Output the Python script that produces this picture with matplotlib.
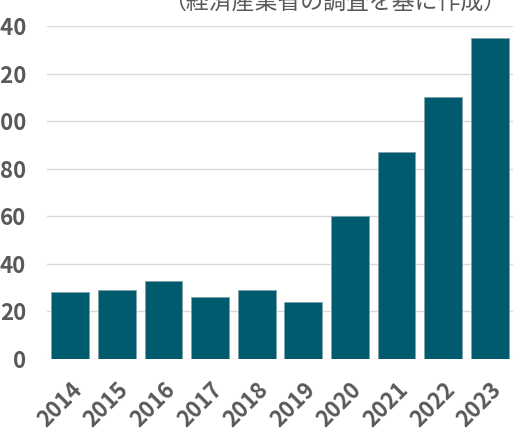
import matplotlib
matplotlib.use("Agg")
import matplotlib.pyplot as plt

# Daten
years = ["2014", "2015", "2016", "2017", "2018", "2019", "2020", "2021", "2022", "2023"]
values = [28, 29, 33, 26, 29, 24, 60, 87, 110, 135]
y_ticks = [0, 20, 40, 60, 80, 100, 120, 140]
note = "（経済産業省の調査を基に作成）"

plt.rcParams["font.family"] = ["Noto Sans CJK JP", "DejaVu Sans"]

fig = plt.figure(figsize=(5.13, 4.48), dpi=100)
ax = fig.add_axes([47 / 513, 89 / 448, 466 / 513, 333 / 448])

x = list(range(len(years)))
ax.bar(x, values, width=0.81, color="#005B6E", edgecolor="#7FA3AD",
       linewidth=0.6, zorder=3)

ax.set_xlim(-0.5, 9.5)
ax.set_ylim(0, 140)
ax.set_yticks(y_ticks)
ax.set_yticklabels([str(v) for v in y_ticks])
ax.set_xticks(x)
ax.set_xticklabels(years, rotation=45, ha="right", rotation_mode="anchor")

ax.yaxis.grid(True, color="#D9D9D9", linewidth=1.0, zorder=0)
ax.set_axisbelow(True)
for s in ax.spines.values():
    s.set_visible(False)

ax.tick_params(axis="y", length=0, pad=15, labelsize=16, labelcolor="#595959")
ax.tick_params(axis="x", length=0, pad=14, labelsize=16, labelcolor="#595959")
for lab in ax.get_yticklabels() + ax.get_xticklabels():
    lab.set_fontweight("bold")

fig.text(335 / 513, 1 - 3 / 448, note, ha="center", va="center",
         fontsize=16.5, color="#595959")

fig.savefig("out.png", dpi=100)
